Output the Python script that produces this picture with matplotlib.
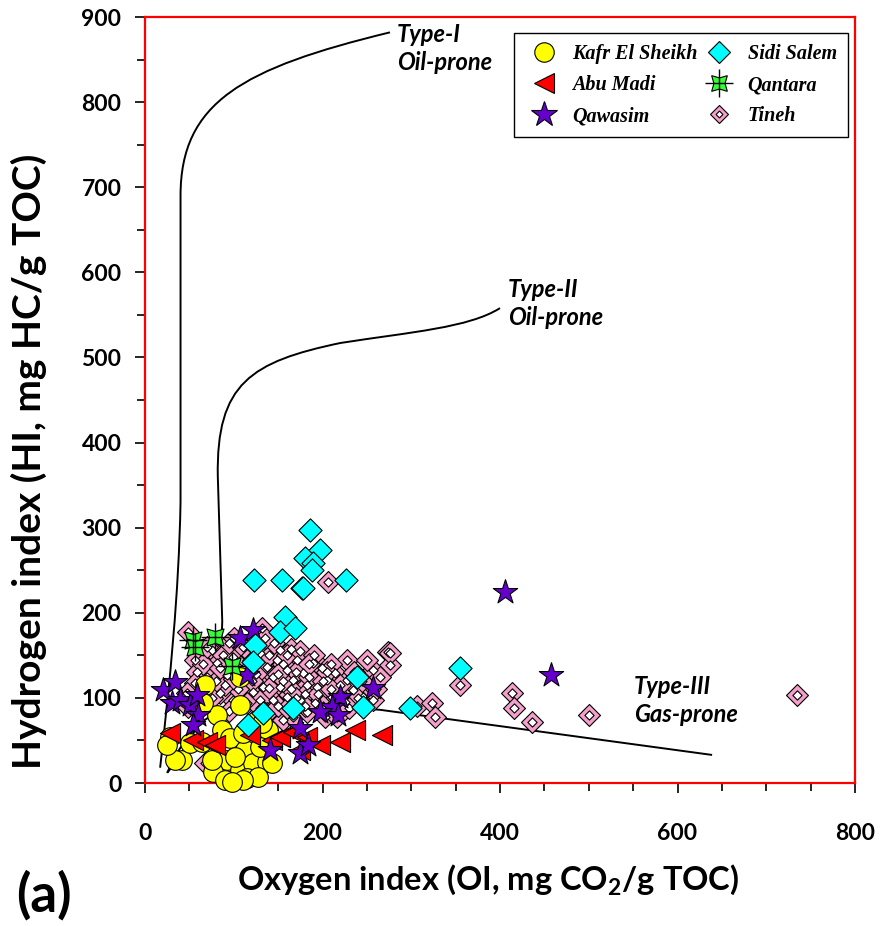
import numpy as np
import matplotlib
matplotlib.use('Agg')
import matplotlib.pyplot as plt
from matplotlib.ticker import MultipleLocator
from matplotlib.lines import Line2D
from matplotlib.path import Path
from matplotlib.patches import PathPatch
from matplotlib.transforms import ScaledTranslation

plt.rcParams['font.family'] = ['Lato', 'DejaVu Sans']

# Kafr El Sheikh (OI, HI)
kafr_oi = [68, 81, 107, 42, 28, 51, 87, 96, 113, 92, 77, 107, 122, 137, 90, 115, 127, 139,
           126, 65, 64, 110, 132, 75, 101, 143, 130, 110, 98, 34, 25, 107]
kafr_hi = [115, 80, 92, 27, 54, 47, 62, 53, 39, 27, 13, 15, 24, 25, 4, 6, 7, 62,
           74, 94, 48, 59, 71, 27, 31, 23, 42, 4, 1, 27, 45, 124]

# Abu Madi
abu_oi = [28, 54, 70, 79, 143, 152, 167, 183, 197, 220, 237, 267, 118, 175]
abu_hi = [59, 50, 48, 45, 50, 54, 60, 54, 45, 48, 62, 56, 56, 39]

# Qawasim
qaw_oi = [20, 34, 30, 39, 51, 59, 60, 54, 107, 122, 115, 141, 175, 184, 257, 220, 211,
          217, 197, 175, 406, 457]
qaw_hi = [109, 119, 94, 98, 92, 103, 80, 68, 170, 180, 127, 39, 35, 45, 112, 101, 89,
          80, 83, 65, 225, 127]

# Sidi Salem
sidi_oi = [186, 197, 180, 189, 177, 226, 123, 154, 178, 188, 158, 152, 169, 124, 122, 239,
           246, 167, 133, 116, 299, 355]
sidi_hi = [297, 274, 264, 258, 229, 239, 239, 239, 229, 250, 195, 177, 182, 162, 142, 125,
           89, 88, 82, 68, 88, 135]

# Qantara
qan_oi = [54, 79, 56, 98]
qan_hi = [168, 172, 160, 137]

# Tineh
tin_oi = [48, 132, 206, 56, 58, 75, 81, 92, 99, 103, 107, 115, 130, 137, 149, 152, 165, 171,
          160, 144, 133, 122, 152, 167, 178, 189, 199, 182, 194, 205, 214, 228, 274, 276, 257,
          228, 234, 220, 211, 192, 175, 160, 144, 130, 115, 99, 85, 70, 56, 47, 48, 246, 257,
          155, 167, 203, 216, 137, 182, 68, 306, 323, 327, 276, 355, 413, 416, 436, 500, 735,
          65, 70, 88, 95, 110, 120, 125, 140, 145, 155, 160, 170, 175, 185, 190, 200, 210, 220,
          225, 235, 240, 245, 250, 260, 265, 120, 105, 90, 80, 75, 95, 130, 150, 165, 180, 195,
          210, 155, 140, 115, 60, 85, 100, 200, 215, 230, 185, 170, 125, 135, 100, 150, 180,
          205, 160]
tin_hi = [178, 182, 236, 145, 131, 156, 141, 127, 148, 133, 118, 145, 153, 136, 145, 156, 158,
          145, 133, 125, 113, 107, 113, 121, 129, 141, 135, 115, 113, 121, 129, 144, 154, 139,
          133, 121, 109, 106, 101, 94, 98, 101, 98, 98, 94, 98, 106, 125, 118, 106, 89, 101, 98,
          74, 78, 78, 78, 82, 83, 24, 90, 94, 78, 153, 115, 106, 88, 72, 80, 103,
          140, 160, 150, 165, 160, 150, 128, 150, 165, 140, 150, 130, 155, 125, 150, 120, 140,
          115, 95, 130, 100, 120, 145, 110, 125, 120, 110, 115, 120, 100, 85, 88, 90, 110, 105,
          105, 110, 120, 112, 132, 100, 135, 122, 90, 92, 88, 140, 100, 160, 170, 170, 128, 90,
          130, 88]

# Kerogen type boundaries as Bezier control points (OI, HI)
type1_pts = [(17, 18), (28, 120), (38, 220), (40, 330), (40, 690),
             (40, 800), (110, 840), (276, 882)]
type1_codes = [Path.MOVETO, Path.CURVE4, Path.CURVE4, Path.CURVE4, Path.LINETO,
               Path.CURVE4, Path.CURVE4, Path.CURVE4]
type2_pts = [(25, 12), (55, 50), (85, 110), (87, 190), (82, 360),
             (80, 470), (120, 495), (220, 517), (300, 530), (365, 535), (400, 558)]
type2_codes = [Path.MOVETO, Path.CURVE4, Path.CURVE4, Path.CURVE4, Path.LINETO,
               Path.CURVE4, Path.CURVE4, Path.CURVE4, Path.CURVE4, Path.CURVE4, Path.CURVE4]
type3_pts = [(25, 12), (50, 70), (80, 98), (150, 96), (265, 86), (639, 33)]
type3_codes = [Path.MOVETO, Path.CURVE4, Path.CURVE4, Path.CURVE4, Path.LINETO, Path.LINETO]

fig = plt.figure(figsize=(8.86, 9.26), dpi=100)
ax = fig.add_axes([0.1637, 0.1544, 0.8013, 0.8272])

for pts, codes in [(type1_pts, type1_codes), (type2_pts, type2_codes), (type3_pts, type3_codes)]:
    ax.add_patch(PathPatch(Path(pts, codes), facecolor='none', edgecolor='black', lw=1.4, zorder=1))

ek = dict(edgecolors='black', linewidths=0.8, clip_on=False)
ax.scatter(tin_oi, tin_hi, marker='D', s=125, c='#f5a0cb', zorder=2, **ek)
ax.scatter(tin_oi, tin_hi, marker='D', s=22, c='white', zorder=2.1, **ek)
ax.scatter(kafr_oi, kafr_hi, marker='o', s=200, c='#ffff00', zorder=3, **ek)
ax.scatter(abu_oi, abu_hi, marker='<', s=210, c='#ff0000', zorder=4, **ek)
ax.scatter(qaw_oi, qaw_hi, marker='*', s=340, c='#6600cc', zorder=5, **ek)
ax.scatter(qan_oi, qan_hi, marker=(4, 1, 45), s=300, c='#33ff33', zorder=6, **ek)
ax.scatter(qan_oi, qan_hi, marker='+', s=420, c='black', linewidths=1.0, zorder=6.1, clip_on=False)
ax.scatter(sidi_oi, sidi_hi, marker='D', s=140, c='#00ffff', zorder=7, **ek)

ax.set_xlim(0, 800)
ax.set_ylim(0, 900)
ax.xaxis.set_major_locator(MultipleLocator(200))
ax.xaxis.set_minor_locator(MultipleLocator(50))
ax.yaxis.set_major_locator(MultipleLocator(100))
ax.yaxis.set_minor_locator(MultipleLocator(50))
ax.tick_params(which='both', direction='out', color='black', width=1.2)
ax.tick_params(which='major', length=7)
ax.tick_params(which='minor', length=6)
ax.tick_params(axis='x', which='major', pad=22)
ax.tick_params(axis='y', which='major', pad=10)
for lab in ax.get_xticklabels() + ax.get_yticklabels():
    lab.set_fontsize(16.5)
    lab.set_fontweight('bold')
for sp in ax.spines.values():
    sp.set_color('red')
    sp.set_linewidth(1.6)

# the last x tick label sits a little higher
last = ax.xaxis.get_major_ticks()[-1].label1
last.set_transform(last.get_transform() + ScaledTranslation(0, 0.1, fig.dpi_scale_trans))

plt.rcParams['mathtext.fontset'] = 'custom'
ax.set_xlabel('Oxygen index (OI, mg CO$_\\mathregular{2}$/g TOC)', fontsize=23.5,
              fontweight='bold', va='center')
ax.xaxis.set_label_coords(0.483, -0.127)
ax.set_ylabel('Hydrogen index (HI, mg HC/g TOC)', fontsize=28, fontweight='bold', va='center')
ax.yaxis.set_label_coords(-0.163, 0.42)

tfont = dict(fontsize=17, fontweight='bold', style='italic', va='top', linespacing=1.25)
ax.text(284, 893, 'Type-I\nOil-prone', **tfont)
ax.text(409, 593, 'Type-II\nOil-prone', **tfont)
ax.text(551, 127, 'Type-III\nGas-prone', **tfont)

fig.text(0.018, 1 - 895 / 926, '(a)', fontsize=38, fontweight='bold', va='center')

# legend with composite markers
h_kafr = Line2D([], [], ls='', marker='o', ms=14, mfc='#ffff00', mec='black', mew=0.8)
h_abu = Line2D([], [], ls='', marker='<', ms=14, mfc='#ff0000', mec='black', mew=0.8)
h_qaw = Line2D([], [], ls='', marker='*', ms=19, mfc='#6600cc', mec='black', mew=0.8)
h_sidi = Line2D([], [], ls='', marker='D', ms=11, mfc='#00ffff', mec='black', mew=0.8)
h_qan = (Line2D([], [], ls='', marker=(4, 1, 45), ms=16, mfc='#33ff33', mec='black', mew=0.8),
         Line2D([], [], ls='', marker='+', ms=20, mec='black', mew=1.0))
h_tin = (Line2D([], [], ls='', marker='D', ms=9, mfc='#f5a0cb', mec='black', mew=0.8),
         Line2D([], [], ls='', marker='D', ms=3.5, mfc='white', mec='black', mew=0.8))
leg = ax.legend([h_kafr, h_abu, h_qaw, h_sidi, h_qan, h_tin],
                ['Kafr El Sheikh', 'Abu Madi', 'Qawasim', 'Sidi Salem', 'Qantara', 'Tineh'],
                ncol=2, loc='upper right', bbox_to_anchor=(0.990, 0.979), borderaxespad=0,
                frameon=True, fancybox=False, edgecolor='black', framealpha=1, borderpad=0.55,
                handletextpad=0.5, columnspacing=0.2, labelspacing=0.55, handlelength=1.8,
                prop=dict(family='Liberation Serif', weight='bold', style='italic', size=14.5))
leg.get_frame().set_linewidth(1.0)
leg.set_zorder(10)

fig.savefig('out.png', dpi=100)
